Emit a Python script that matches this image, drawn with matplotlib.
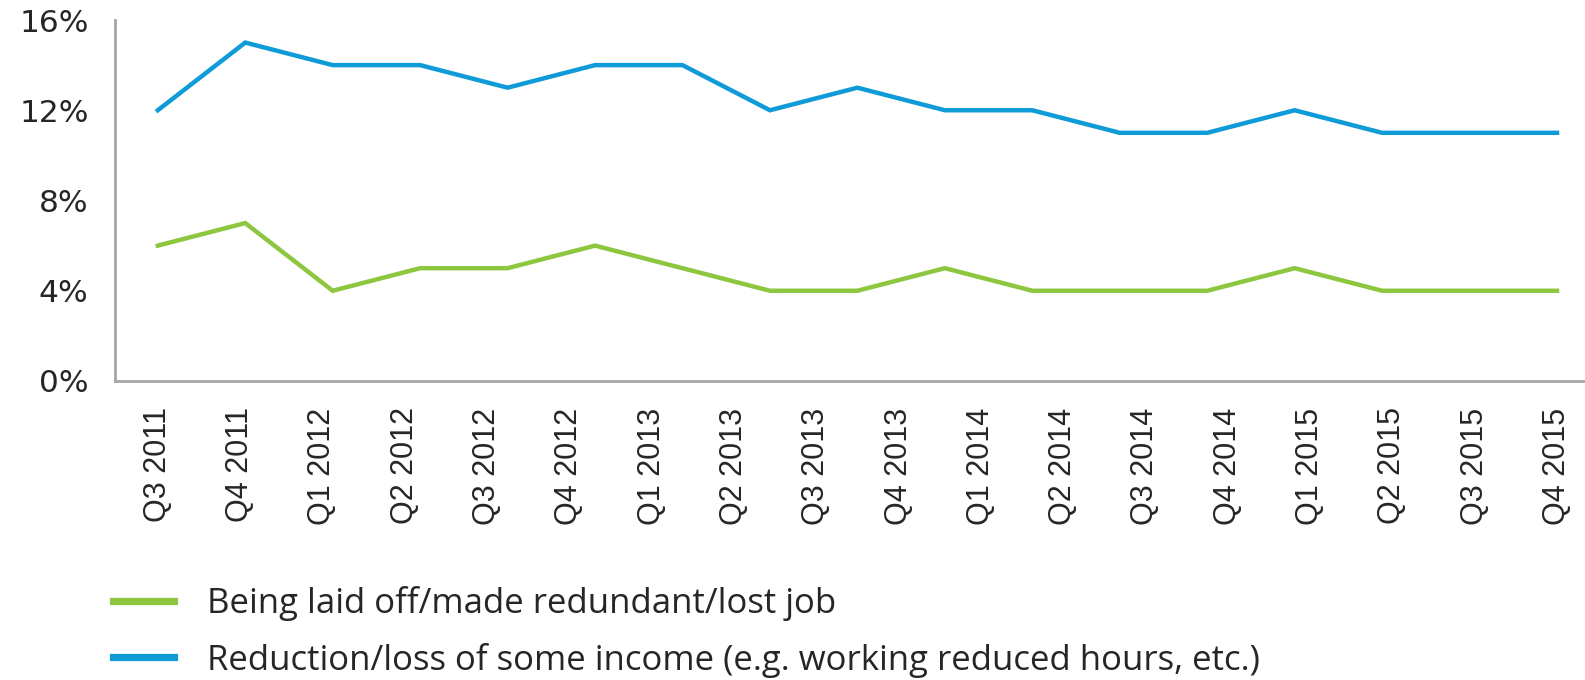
import numpy as np
import matplotlib
matplotlib.use("Agg")
import matplotlib.pyplot as plt
from matplotlib.ticker import FuncFormatter

# Quarter labels along the horizontal axis
quarters = ["Q3 2011", "Q4 2011", "Q1 2012", "Q2 2012", "Q3 2012", "Q4 2012",
            "Q1 2013", "Q2 2013", "Q3 2013", "Q4 2013", "Q1 2014", "Q2 2014",
            "Q3 2014", "Q4 2014", "Q1 2015", "Q2 2015", "Q3 2015", "Q4 2015"]

# Survey shares (%) - the series hold 17 readings spread over the labelled span
lost_job = [6, 7, 4, 5, 5, 6, 5, 4, 4, 5, 4, 4, 4, 5, 4, 4, 4]
income_loss = [12, 15, 14, 14, 13, 14, 14, 12, 13, 12, 12, 11, 11, 12, 11, 11, 11]

series_names = ["Being laid off/made redundant/lost job",
                "Reduction/loss of some income (e.g. working reduced hours, etc.)"]
y_ticks = [0, 4, 8, 12, 16]

GREEN = "#8dc63f"
BLUE = "#0f9bd7"
SPINE = "#a6a6a6"
TEXT = "#262626"

fig = plt.figure(figsize=(15.85, 6.80), dpi=100)
ax = fig.add_axes([115 / 1585, 1 - 381 / 680, 1 - 115 / 1585, (381 - 20) / 680])

x_pos = np.linspace(0, len(quarters) - 1, len(lost_job))
l1, = ax.plot(x_pos, lost_job, color=GREEN, lw=3.2, solid_joinstyle="miter")
l2, = ax.plot(x_pos, income_loss, color=BLUE, lw=3.2, solid_joinstyle="miter")

ax.set_xlim(-0.52, len(quarters) - 1 + 0.34)
ax.set_ylim(0, 16)
ax.set_yticks(y_ticks)
ax.yaxis.set_major_formatter(FuncFormatter(lambda v, _: f"{v:.0f}%"))
ax.set_xticks(range(len(quarters)))
ax.set_xticklabels(quarters, rotation=90, fontsize=22,
                   family=["Liberation Sans", "DejaVu Sans"], color=TEXT)
for lab in ax.get_yticklabels():
    lab.set_fontsize(22.5)
    lab.set_family(["DejaVu Sans"])
    lab.set_color(TEXT)

ax.tick_params(axis="x", length=0, pad=19)
ax.tick_params(axis="y", length=0, pad=19)
for side in ("top", "right"):
    ax.spines[side].set_visible(False)
for side in ("left", "bottom"):
    ax.spines[side].set_color(SPINE)
    ax.spines[side].set_linewidth(2)

leg = fig.legend([l1, l2], series_names, loc="upper left",
                 bbox_to_anchor=(113 / 1585, 1 - 586 / 680), frameon=False,
                 prop={"family": ["Open Sans", "DejaVu Sans"], "size": 25},
                 handlelength=1.76, handletextpad=0.95, labelspacing=0.62,
                 borderpad=0, borderaxespad=0)
for h in leg.legend_handles:
    h.set_linewidth(5.2)
for t in leg.get_texts():
    t.set_color(TEXT)

fig.savefig("out.png", dpi=100, facecolor="white")
